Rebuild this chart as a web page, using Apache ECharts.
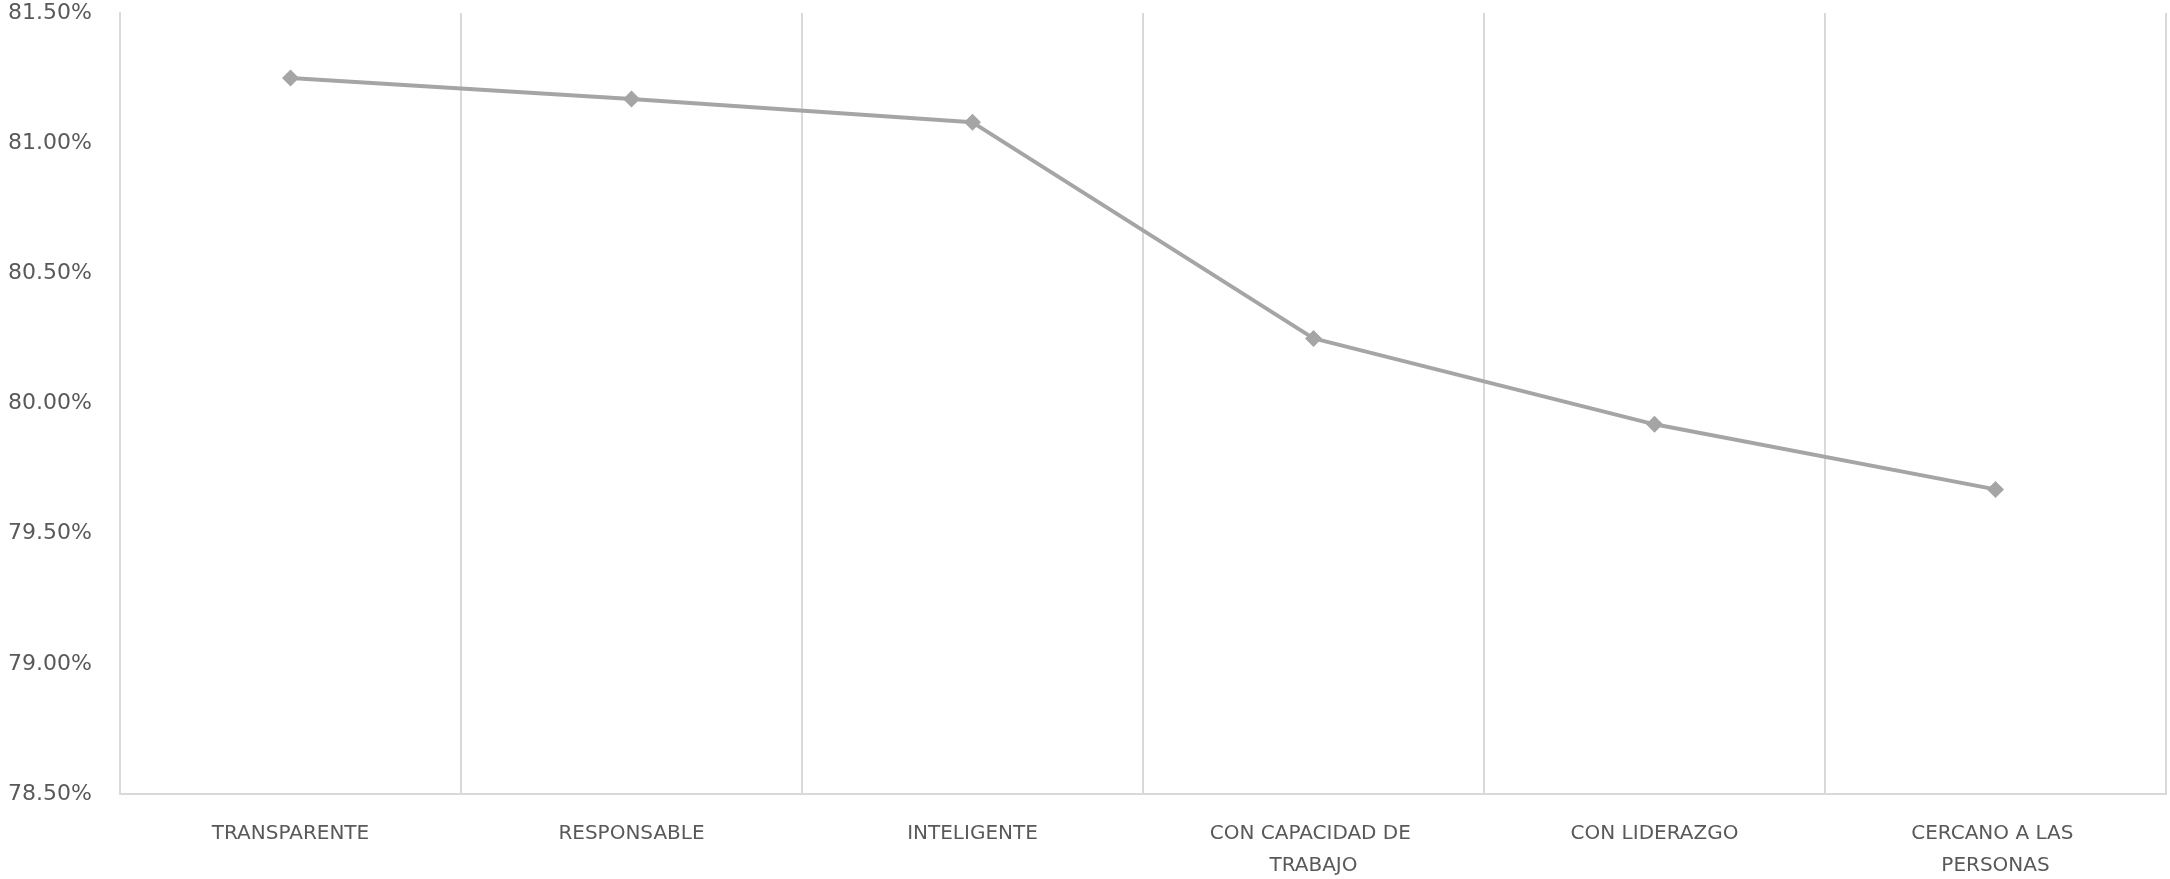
<!DOCTYPE html>
<html><head><meta charset="utf-8">
<script src="https://cdn.jsdelivr.net/npm/echarts@6/dist/echarts.min.js"></script>
<style>html,body{margin:0;padding:0;background:#fff}#c{width:2170px;height:879px}</style>
</head><body><div id="c"></div>
<script>
const categories = ["TRANSPARENTE","RESPONSABLE","INTELIGENTE","CON CAPACIDAD DE TRABAJO","CON LIDERAZGO","CERCANO A LAS PERSONAS"];
const values = [81.25, 81.17, 81.08, 80.25, 79.92, 79.67];
const yMin = 78.5, yMax = 81.5, yStep = 0.5;

const chart = echarts.init(document.getElementById('c'));
chart.setOption({
  animation: false,
  grid: {left: 120, right: 4, top: 13, bottom: 85, outerBoundsMode: 'none', containLabel: false},
  xAxis: {
    type: 'category', data: categories, boundaryGap: true,
    axisLine: {show: true, lineStyle: {color: '#d9d9d9', width: 2}},
    axisTick: {show: false},
    splitLine: {show: true, lineStyle: {color: '#d9d9d9', width: 2}},
    axisLabel: {color: '#595959', fontFamily: 'DejaVu Sans', fontSize: 20, margin: 24,
      lineHeight: 32, width: 250, overflow: 'break', interval: 0}
  },
  yAxis: {
    type: 'value', min: yMin, max: yMax, interval: yStep,
    axisLine: {show: true, lineStyle: {color: '#d9d9d9', width: 2}},
    axisTick: {show: false},
    splitLine: {show: false},
    axisLabel: {color: '#595959', fontFamily: 'DejaVu Sans', fontSize: 22, margin: 28,
      formatter: v => v.toFixed(2) + '%'}
  },
  series: [{
    type: 'line', data: values,
    lineStyle: {color: '#a5a5a5', width: 4},
    itemStyle: {color: '#a5a5a5'},
    symbol: 'diamond', symbolSize: 17
  }]
});
</script></body></html>
